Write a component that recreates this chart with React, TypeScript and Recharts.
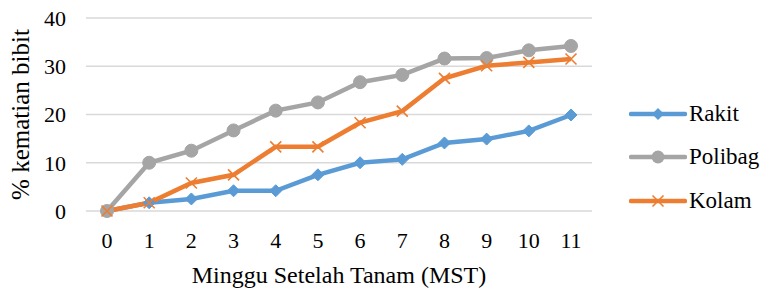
import React from "react";
import { LineChart, Line, XAxis, YAxis, CartesianGrid } from "recharts";

const weeks = ["0", "1", "2", "3", "4", "5", "6", "7", "8", "9", "10", "11"];
const rakit = [0, 1.7, 2.5, 4.2, 4.2, 7.5, 10, 10.7, 14.1, 14.9, 16.6, 19.9];
const polibag = [0, 10, 12.5, 16.7, 20.8, 22.5, 26.7, 28.2, 31.6, 31.7, 33.3, 34.2];
const kolam = [0, 1.7, 5.8, 7.5, 13.3, 13.3, 18.3, 20.7, 27.5, 30.1, 30.8, 31.5];
const yTicks = [0, 10, 20, 30, 40];

const BLUE = "#5B9BD5";
const GRAY = "#A5A5A5";
const ORANGE = "#ED7D31";
const FONT = '"Liberation Serif", "Times New Roman", serif';

const data = weeks.map((w, i) => ({
  week: w,
  Rakit: rakit[i],
  Polibag: polibag[i],
  Kolam: kolam[i],
}));

const Diamond = (props: any) => {
  const { cx, cy } = props;
  if (cx == null || cy == null) return null;
  const r = 6;
  return (
    <path
      d={`M${cx},${cy - r} L${cx + r},${cy} L${cx},${cy + r} L${cx - r},${cy} Z`}
      fill={BLUE}
      stroke={BLUE}
      strokeWidth={1}
    />
  );
};

const CircleDot = (props: any) => {
  const { cx, cy } = props;
  if (cx == null || cy == null) return null;
  return <circle cx={cx} cy={cy} r={6.5} fill={GRAY} stroke={GRAY} strokeWidth={1} />;
};

const Cross = (props: any) => {
  const { cx, cy } = props;
  if (cx == null || cy == null) return null;
  const r = 5.5;
  return (
    <path
      d={`M${cx - r},${cy - r} L${cx + r},${cy + r} M${cx - r},${cy + r} L${cx + r},${cy - r}`}
      stroke={ORANGE}
      strokeWidth={1.6}
      fill="none"
    />
  );
};

const legendItems = [
  { name: "Rakit", color: BLUE, kind: "diamond" },
  { name: "Polibag", color: GRAY, kind: "circle" },
  { name: "Kolam", color: ORANGE, kind: "cross" },
];

const LegendIcon = ({ color, kind }: { color: string; kind: string }) => (
  <svg width={58} height={20} style={{ display: "block" }}>
    <line x1={2} y1={10} x2={56} y2={10} stroke={color} strokeWidth={4.5} strokeLinecap="round" />
    {kind === "diamond" && <path d="M29,4 L35,10 L29,16 L23,10 Z" fill={color} />}
    {kind === "circle" && <circle cx={29} cy={10} r={6.5} fill={color} />}
    {kind === "cross" && (
      <path d="M23.5,4.5 L34.5,15.5 M23.5,15.5 L34.5,4.5" stroke={color} strokeWidth={1.6} />
    )}
  </svg>
);

const tickStyle = { fill: "#000", fontSize: 22, fontFamily: FONT };

const css = `#chart-root, #chart-root text, #chart-root tspan, #chart-root span, #chart-root div { font-family: "Liberation Serif", "Times New Roman", serif !important; }`;

export default function App() {
  return (
    <div id="chart-root" style={{ position: "absolute", left: 0, top: 0, width: 770, height: 293, background: "#fff", fontFamily: FONT }}>
      <style>{css}</style>
      <LineChart
        width={770}
        height={293}
        data={data}
        margin={{ top: 18, right: 178, left: 0, bottom: 0 }}
      >
        <CartesianGrid vertical={false} stroke="#D9D9D9" strokeWidth={1.3} />
        <XAxis
          dataKey="week"
          height={82}
          padding={{ left: 21, right: 21 }}
          axisLine={false}
          tickLine={false}
          tickSize={0}
          tickMargin={21}
          interval={0}
          tick={tickStyle}
          label={{
            value: "Minggu Setelah Tanam (MST)",
            position: "insideBottom",
            offset: 10,
            fill: "#000",
            fontSize: 24,
            fontFamily: FONT,
          }}
        />
        <YAxis
          width={86}
          domain={[0, 40]}
          ticks={yTicks}
          axisLine={false}
          tickLine={false}
          tickSize={0}
          tickMargin={20}
          tick={tickStyle}
          label={{
            value: "% kematian bibit",
            angle: -90,
            position: "insideLeft",
            offset: 20,
            fill: "#000",
            fontSize: 25,
            fontFamily: FONT,
            style: { textAnchor: "middle" },
          }}
        />
        <Line
          dataKey="Rakit"
          stroke={BLUE}
          strokeWidth={4.5}
          dot={<Diamond />}
          isAnimationActive={false}
        />
        <Line
          dataKey="Polibag"
          stroke={GRAY}
          strokeWidth={4.5}
          dot={<CircleDot />}
          isAnimationActive={false}
        />
        <Line
          dataKey="Kolam"
          stroke={ORANGE}
          strokeWidth={4.5}
          dot={<Cross />}
          isAnimationActive={false}
        />
      </LineChart>
      <div style={{ position: "absolute", left: 629, top: 92 }}>
        {legendItems.map((it) => (
          <div
            key={it.name}
            style={{ display: "flex", alignItems: "center", height: 43.5, fontFamily: FONT, fontSize: 23, color: "#000" }}
          >
            <LegendIcon color={it.color} kind={it.kind} />
            <span style={{ marginLeft: 2 }}>{it.name}</span>
          </div>
        ))}
      </div>
    </div>
  );
}
